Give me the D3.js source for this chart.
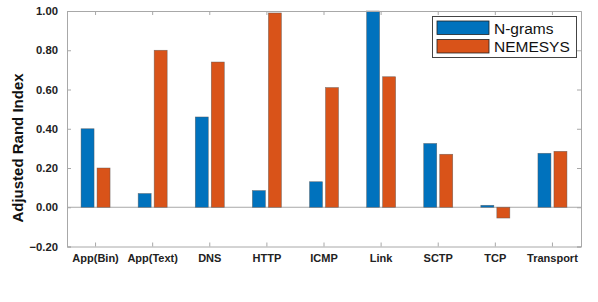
<!DOCTYPE html>
<html>
<head>
<meta charset="utf-8">
<script src="https://cdn.jsdelivr.net/npm/d3@7"></script>
<style>
    body { margin: 0; background: #fff; }
    svg text { font-family: "Liberation Sans", Arial, Helvetica, sans-serif; }
    .axis path, .axis line { stroke: #a8a8a8; }
    .axis text { font-weight: bold; fill: #222; }
</style>
</head>
<body>
<script>
(function () {

    //chart data
    var categories = ["App(Bin)", "App(Text)", "DNS", "HTTP", "ICMP", "Link", "SCTP", "TCP", "Transport"];
    var seriesNames = ["N-grams", "NEMESYS"];
    var ngrams = [0.40, 0.07, 0.46, 0.085, 0.13, 1.00, 0.325, 0.01, 0.275];
    var nemesys = [0.20, 0.80, 0.74, 0.99, 0.61, 0.665, 0.27, -0.055, 0.285];
    var yTicks = [-0.20, 0.00, 0.20, 0.40, 0.60, 0.80, 1.00];
    var colors = ["#0072BD", "#D95319"];

    window.onload = setChart();

    function setChart() {
        var width = 598,
            height = 302,
            left = 67,
            right = 581,
            top = 11,
            bottom = 246.5;

        var svg = d3.select("body")
            .append("svg")
            .attr("width", width)
            .attr("height", height);

        var xScale = d3.scaleBand()
            .domain(categories)
            .range([left, right])
            .padding(0);

        var yScale = d3.scaleLinear()
            .domain([-0.2, 1.0])
            .range([bottom, top]);

        //zero line
        svg.append("line")
            .attr("x1", left)
            .attr("x2", right)
            .attr("y1", yScale(0))
            .attr("y2", yScale(0))
            .attr("stroke", "#a8a8a8")
            .attr("stroke-width", 1);

        //bars, one group per series
        var series = [ngrams, nemesys];
        var barW = 13, gap = 1.5;
        series.forEach(function (vals, s) {
            svg.selectAll(".bar" + s)
                .data(vals)
                .enter()
                .append("rect")
                .attr("class", "bar" + s)
                .attr("x", function (d, i) {
                    var c = xScale(categories[i]) + xScale.bandwidth() / 2;
                    return s == 0 ? c - gap - barW : c + gap;
                })
                .attr("width", barW)
                .attr("y", function (d) { return yScale(Math.max(d, 0)); })
                .attr("height", function (d) { return Math.abs(yScale(d) - yScale(0)); })
                .attr("fill", colors[s])
                .attr("stroke", "#555")
                .attr("stroke-opacity", 0.7)
                .attr("stroke-width", 0.6);
        });

        //axes with inward ticks
        var fmt = d3.format(".2f");
        svg.append("g")
            .attr("class", "axis")
            .attr("transform", "translate(" + left + ",0)")
            .call(d3.axisLeft(yScale).tickValues(yTicks).tickFormat(fmt).tickSize(-4).tickPadding(9))
            .selectAll("text").style("font-size", "11.3px");

        svg.append("g")
            .attr("class", "axis")
            .attr("transform", "translate(" + right + ",0)")
            .call(d3.axisRight(yScale).tickValues(yTicks).tickSize(-4).tickFormat(""));

        svg.append("g")
            .attr("class", "axis")
            .attr("transform", "translate(0," + bottom + ")")
            .call(d3.axisBottom(xScale).tickSize(-4).tickPadding(8).tickSizeOuter(0))
            .selectAll("text").style("font-size", "11px");

        svg.append("g")
            .attr("class", "axis")
            .attr("transform", "translate(0," + top + ")")
            .call(d3.axisTop(xScale).tickSize(-4).tickFormat("").tickSizeOuter(0));

        svg.selectAll(".axis .domain").attr("stroke", "#a8a8a8");

        //y axis title
        svg.append("text")
            .attr("transform", "translate(23,148) rotate(-90)")
            .attr("text-anchor", "middle")
            .style("font-size", "15px")
            .style("font-weight", "bold")
            .attr("fill", "#111")
            .text("Adjusted Rand Index");

        //legend
        var legend = svg.append("g");
        legend.append("rect")
            .attr("x", 432.5)
            .attr("y", 16.5)
            .attr("width", 144)
            .attr("height", 41)
            .attr("fill", "#fff")
            .attr("stroke", "#444")
            .attr("stroke-width", 1);

        seriesNames.forEach(function (name, s) {
            legend.append("rect")
                .attr("x", 437)
                .attr("y", 21 + s * 18.5)
                .attr("width", 52)
                .attr("height", 13.5)
                .attr("fill", colors[s])
                .attr("stroke", "#222")
                .attr("stroke-width", 0.8);
            legend.append("text")
                .attr("x", 494)
                .attr("y", 33.5 + s * 18.5)
                .style("font-size", "15.5px")
                .attr("fill", "#111")
                .text(name);
        });
    };
})();
</script>
</body>
</html>
